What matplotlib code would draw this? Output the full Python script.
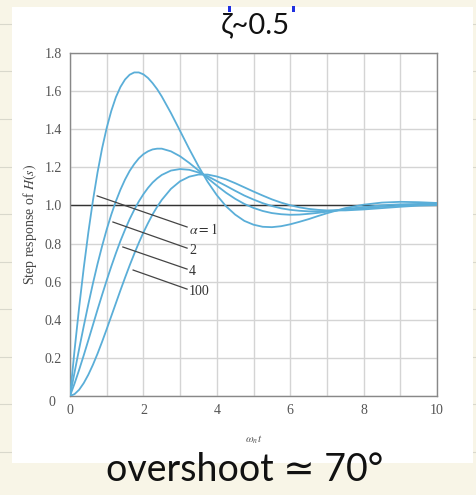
import matplotlib
matplotlib.use("Agg")
import matplotlib.pyplot as plt
from matplotlib.patches import Rectangle

# normalized time w_n*t and step response of H(s) for zeta = 0.5
t = [0, 0.125, 0.25, 0.375, 0.5, 0.625, 0.75, 0.875, 1.0, 1.125, 1.25, 1.375,
     1.5, 1.625, 1.75, 1.875, 2.0, 2.125, 2.25, 2.375, 2.5,
     2.75, 3.0, 3.25, 3.5, 3.75, 4.0, 4.25, 4.5, 4.75, 5.0, 5.25, 5.5, 5.75,
     6.0, 6.25, 6.5, 6.75, 7.0,
     7.5, 8.0, 8.5, 9.0, 9.5, 10.0]
alpha_1 = [0, 0.242, 0.467, 0.673, 0.859, 1.026, 1.173, 1.300, 1.407, 1.496,
           1.568, 1.622, 1.661, 1.686, 1.698, 1.698, 1.688, 1.669, 1.642, 1.610,
           1.572,
           1.485, 1.391, 1.296, 1.206, 1.124, 1.054, 0.996, 0.952, 0.919, 0.899,
           0.888, 0.886, 0.891, 0.901, 0.914, 0.928, 0.944, 0.959,
           0.986, 1.004, 1.015, 1.019, 1.017, 1.013]
alpha_2 = [0, 0.125, 0.248, 0.367, 0.482, 0.591, 0.693, 0.787, 0.874, 0.952,
           1.022, 1.083, 1.136, 1.181, 1.217, 1.247, 1.269, 1.284, 1.294, 1.298,
           1.298,
           1.284, 1.258, 1.223, 1.184, 1.143, 1.104, 1.067, 1.035, 1.008, 0.987,
           0.971, 0.960, 0.954, 0.951, 0.952, 0.956, 0.961, 0.967,
           0.980, 0.992, 1.001, 1.006, 1.008, 1.008]
alpha_4 = [0, 0.066, 0.138, 0.214, 0.293, 0.373, 0.453, 0.531, 0.607, 0.680,
           0.749, 0.814, 0.873, 0.928, 0.977, 1.021, 1.059, 1.092, 1.120, 1.142,
           1.160,
           1.183, 1.191, 1.187, 1.173, 1.153, 1.128, 1.103, 1.077, 1.052, 1.031,
           1.012, 0.997, 0.985, 0.977, 0.972, 0.969, 0.969, 0.971,
           0.977, 0.985, 0.993, 0.999, 1.003, 1.005]
alpha_100 = [0, 0.010, 0.033, 0.068, 0.112, 0.164, 0.222, 0.285, 0.351, 0.419,
             0.487, 0.555, 0.621, 0.685, 0.746, 0.804, 0.858, 0.907, 0.953, 0.993,
             1.029,
             1.087, 1.127, 1.151, 1.162, 1.162, 1.152, 1.137, 1.117, 1.095, 1.073,
             1.052, 1.032, 1.015, 1.001, 0.990, 0.982, 0.977, 0.974,
             0.974, 0.979, 0.986, 0.993, 0.999, 1.002]
curves = [alpha_1, alpha_2, alpha_4, alpha_100]
curve_labels = [r"$\alpha = 1$", "2", "4", "100"]

x_ticks = [0, 2, 4, 6, 8, 10]
y_ticks = [0.2, 0.4, 0.6, 0.8, 1.0, 1.2, 1.4, 1.6, 1.8]

# leader lines: (start on curve, end near label)
leaders = [((0.74, 1.05), (3.19, 0.887)),
           ((1.17, 0.913), (3.19, 0.776)),
           ((1.44, 0.782), (3.19, 0.666)),
           ((1.72, 0.661), (3.19, 0.561))]

plt.rcParams["mathtext.fontset"] = "stix"
serif = "Liberation Serif"
hand = ["Lato", "DejaVu Sans"]
blue = "#5aaed8"

W, H = 476, 495
fig = plt.figure(figsize=(W / 100, H / 100), dpi=100)
fig.patch.set_facecolor("#f8f5e7")

# ruled notebook lines behind the page
for yp in [24 + 47.5 * i for i in range(10)]:
    fig.add_artist(plt.Line2D([0, 1], [1 - yp / H, 1 - yp / H],
                              color="#d9d8cc", lw=0.8, zorder=0))
fig.add_artist(Rectangle((12 / W, 1 - 463 / H), 461 / W, 456 / H,
                         transform=fig.transFigure, facecolor="white",
                         edgecolor="none", zorder=1))
for xp in [228, 292]:
    fig.add_artist(Rectangle((xp / W, 1 - 12 / H), 2.5 / W, 6 / H,
                             transform=fig.transFigure, facecolor="#2030e0",
                             edgecolor="none", zorder=2))

ax = fig.add_axes([70 / W, 1 - 396 / H, 367 / W, 343 / H])
ax.set_zorder(3)
ax.set_facecolor("white")

for y in curves:
    ax.plot(t, y, color=blue, lw=1.3, zorder=3)
ax.axhline(1.0, color="#333333", lw=1.0, zorder=2)

for ((x0, y0), (x1, y1)), lab in zip(leaders, curve_labels):
    ax.plot([x0, x1], [y0, y1], color="#444444", lw=0.9, zorder=4)
    ax.text(x1 + 0.05, y1 - 0.015, lab, fontsize=10, family=serif,
            color="#333333", va="center", ha="left", zorder=4)

ax.set_xlim(0, 10)
ax.set_ylim(0, 1.8)
ax.set_xticks(range(11))
ax.set_yticks([0.2 * i for i in range(10)])
ax.set_xticklabels([str(v) if v in x_ticks else "" for v in range(11)])
ax.set_yticklabels([""] + [f"{v:.1f}" for v in y_ticks])
ax.grid(True, color="#d4d4d4", lw=1.0, zorder=1)
ax.tick_params(length=0, pad=6, labelsize=10, labelcolor="#555555")
for lab in ax.get_xticklabels() + ax.get_yticklabels():
    lab.set_family(serif)
for s in ax.spines.values():
    s.set_color("#888888")
    s.set_linewidth(1.0)
ax.text(-0.04, -0.02, "0", transform=ax.transAxes, ha="right", va="center",
        fontsize=10, family=serif, color="#555555")

ax.set_ylabel(r"Step response of $H(s)$", family=serif, fontsize=10,
              color="#444444", labelpad=4)
ax.set_xlabel(r"$\omega_n t$", fontsize=8, color="#555555", labelpad=12)

# pen notes on the page
fig.text(255 / W, 1 - 25 / H, "ζ~0.5", fontsize=21, ha="center",
         va="center", color="#111111", family=hand, zorder=5)
fig.text(245 / W, 1 - 470 / H, "overshoot ≃ 70°", fontsize=27,
         ha="center", va="center", color="#111111", family=hand, zorder=5)

fig.savefig("out.png", dpi=100)
